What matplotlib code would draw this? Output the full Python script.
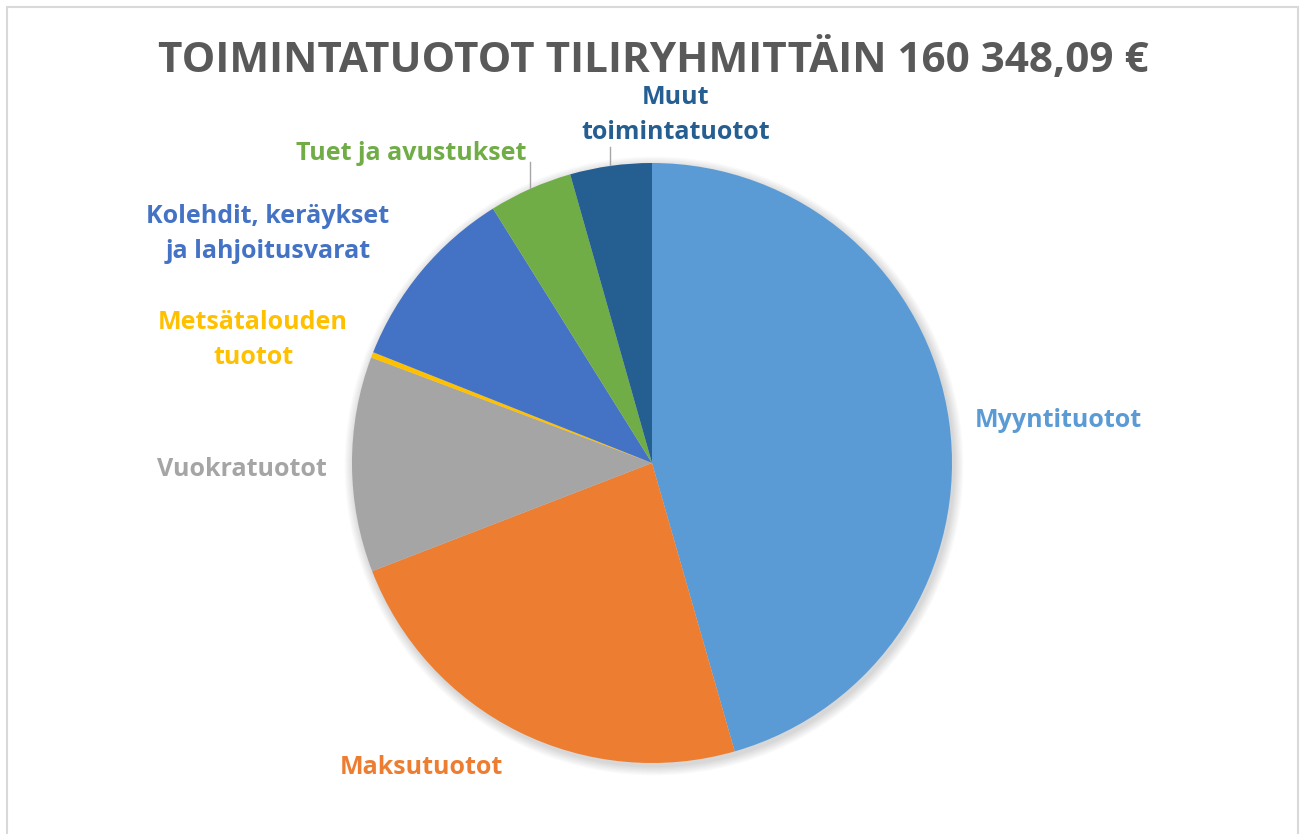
import numpy as np
import matplotlib
matplotlib.use("Agg")
import matplotlib.pyplot as plt

# Toimintatuotot tiliryhmittäin, osuudet (%) luettu kuvasta
categories = ["Myyntituotot", "Maksutuotot", "Vuokratuotot", "Metsätalouden\ntuotot",
              "Kolehdit, keräykset\nja lahjoitusvarat", "Tuet ja avustukset",
              "Muut\ntoimintatuotot"]
shares = [45.6, 23.6, 11.6, 0.3, 10.1, 4.5, 4.4]
colors = ["#5B9BD5", "#ED7D31", "#A5A5A5", "#FFC000", "#4472C4", "#70AD47", "#255E91"]
title = "TOIMINTATUOTOT TILIRYHMITTÄIN 160 348,09 €"

plt.rcParams['font.family'] = ['Open Sans', 'DejaVu Sans']

W, H = 1301, 834
fig = plt.figure(figsize=(W / 100, H / 100), dpi=100)
ax = fig.add_axes([0, 0, 1, 1])

cx, cy, r = 652, H - 463, 300

# soft shadow behind the pie
for k in range(8):
    circ = plt.Circle((cx + 2, cy - 3), r + 1 + k * 1.2, color="black",
                      alpha=0.018, lw=0, zorder=1)
    ax.add_patch(circ)

ax.pie(shares, colors=colors, startangle=90, counterclock=False,
       center=(cx, cy), radius=r, wedgeprops=dict(linewidth=0, zorder=2),
       frame=True)
ax.set_xlim(0, W)
ax.set_ylim(0, H)
ax.set_aspect("equal")
ax.axis("off")

# label positions (pixels from top-left)
label_pos = [(1058, 420), (421, 767), (242, 469), (253, 340),
             (268, 234), (411, 153), (676, 115)]
for lab, (x, y), c in zip(categories, label_pos, colors):
    ax.text(x, H - y, lab, color=c, fontsize=18, fontweight="bold",
            ha="center", va="center", linespacing=1.5, zorder=5)

# leader lines
ax.plot([530, 530], [H - 162, H - 188], color="#A6A6A6", lw=1, zorder=3)
ax.plot([610, 610], [H - 147, H - 165], color="#A6A6A6", lw=1, zorder=3)

ax.text(653, H - 61, title, color="#595959", fontsize=30.4, fontweight="bold",
        ha="center", va="center", zorder=5)

# chart frame
ax.plot([6.5, 6.5, 1297.5, 1297.5], [0, H - 6.5, H - 6.5, 0],
        color="#D9D9D9", lw=1.5, zorder=6, solid_joinstyle="miter")

fig.savefig("out.png", dpi=100)
